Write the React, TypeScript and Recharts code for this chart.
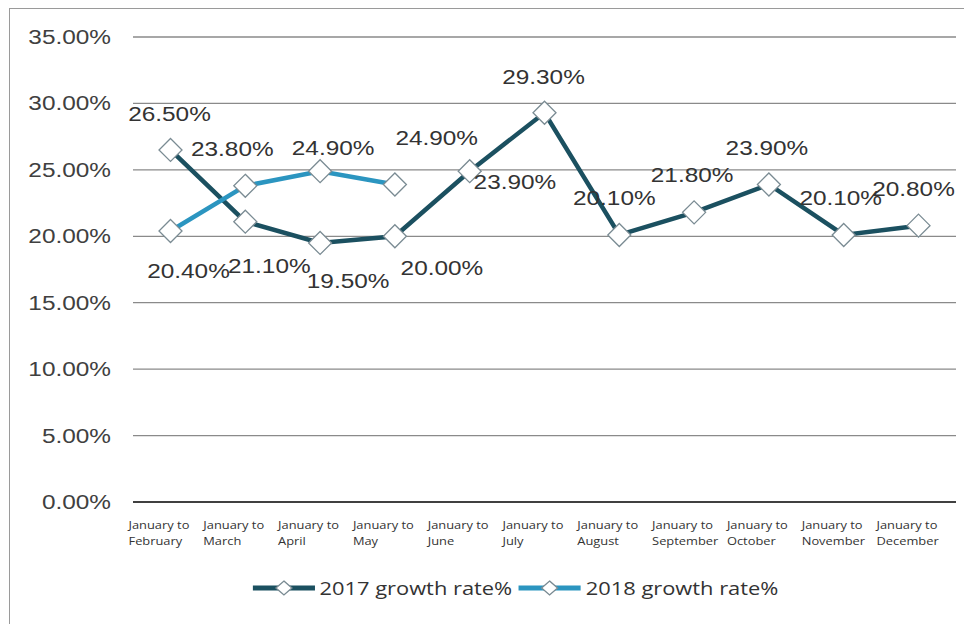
import React from 'react';
import { LineChart, Line, XAxis, YAxis, CartesianGrid } from 'recharts';

const categories = [
  'January to\nFebruary', 'January to\nMarch', 'January to\nApril', 'January to\nMay',
  'January to\nJune', 'January to\nJuly', 'January to\nAugust', 'January to\nSeptember',
  'January to\nOctober', 'January to\nNovember', 'January to\nDecember',
];
const growth2017 = [26.5, 21.1, 19.5, 20.0, 24.9, 29.3, 20.1, 21.8, 23.9, 20.1, 20.8];
const growth2018 = [20.4, 23.8, 24.9, 23.9];
const yTicks = [0, 5, 10, 15, 20, 25, 30, 35];
const seriesNames = ['2017 growth rate%', '2018 growth rate%'];

// label placement offsets (style only)
const labelOffsets2017 = [[-1, -36], [24, 44], [28, 38], [47, 32], [-33, -33], [-1, -36], [-5, -37], [-2, -37], [-2, -36], [-3, -37], [-5, -37]];
const labelOffsets2018 = [[18, 40], [-13, -37], [13, -23], [120, -2]];

const data = categories.map((c, i) => ({
  name: c,
  y2017: growth2017[i],
  y2018: i < growth2018.length ? growth2018[i] : null,
}));

const C2017 = '#1b5060';
const C2018 = '#2b95c0';
const SX = 1.25;
const fmt = (v: number) => `${v.toFixed(2)}%`;

const Diamond = (props: any) => {
  const { cx, cy, value } = props;
  if (value == null || cx == null || cy == null) return null;
  const r = 11.5;
  return (
    <path
      d={`M${cx},${cy - r} L${cx + r},${cy} L${cx},${cy + r} L${cx - r},${cy} Z`}
      fill="#ffffff"
      stroke="#7a8b93"
      strokeWidth={1.3}
    />
  );
};

const makeLabel = (offsets: number[][]) => (props: any) => {
  const { x, y, value, index } = props;
  if (value == null) return null;
  const [dx, dy] = offsets[index] || [0, -36];
  return (
    <text
      transform={`translate(${x + dx},${y + dy}) scale(${SX},1)`}
      textAnchor="middle"
      dy="0.36em"
      fontFamily="'Liberation Sans', Arial, sans-serif"
      fontSize={19.5}
      fill="#333333"
    >
      {fmt(Number(value))}
    </text>
  );
};

const YTick = (props: any) => {
  const { x, y, payload } = props;
  return (
    <text
      transform={`translate(${x},${y}) scale(${SX},1)`}
      textAnchor="end"
      dy="0.36em"
      fontFamily="'Liberation Sans', Arial, sans-serif"
      fontSize={19.5}
      fill="#404040"
    >
      {fmt(Number(payload.value))}
    </text>
  );
};

const XTick = (props: any) => {
  const { x, y, payload } = props;
  const lines = String(payload.value).split('\n');
  return (
    <g transform={`translate(${x - 42},${y})`}>
      {lines.map((l, i) => (
        <text
          key={i}
          transform={`translate(0,${27 + i * 16}) scale(1.12,1)`}
          textAnchor="start"
          fontFamily="'Open Sans', 'Noto Sans', sans-serif"
          fontSize={11.5}
          fill="#333333"
        >
          {l}
        </text>
      ))}
    </g>
  );
};

const LegendIcon = ({ color }: { color: string }) => (
  <svg width={58} height={20} style={{ display: 'block' }}>
    <line x1={2} y1={10} x2={56} y2={10} stroke={color} strokeWidth={5} />
    <path d="M29,3 L36,10 L29,17 L22,10 Z" fill="#fff" stroke="#7a8b93" strokeWidth={1.2} />
  </svg>
);

export default function App() {
  return (
    <div
      style={{
        position: 'relative',
        width: 962,
        height: 616,
        borderLeft: '1.5px solid #9a9a9a',
        borderTop: '1.5px solid #9a9a9a',
        boxSizing: 'border-box',
        background: '#fff',
        marginLeft: 1,
      }}
    >
      <LineChart
        width={960}
        height={614}
        data={data}
        margin={{ top: 28, right: 14, left: 0, bottom: 61 }}
      >
        <CartesianGrid vertical={false} stroke="#8a8a8a" strokeWidth={1.3} />
        <XAxis
          dataKey="name"
          interval={0}
          padding={{ left: 37.5, right: 37.5 }}
          tickLine={false}
          axisLine={{ stroke: '#404040', strokeWidth: 2.2 }}
          tickSize={0}
          tickMargin={0}
          height={60}
          tick={<XTick />}
        />
        <YAxis
          width={123}
          domain={[0, 35]}
          ticks={yTicks}
          interval={0}
          axisLine={false}
          tickLine={false}
          tickSize={0}
          tickMargin={22}
          tick={<YTick />}
        />
        <Line
          type="linear"
          dataKey="y2017"
          name={seriesNames[0]}
          stroke={C2017}
          strokeWidth={4.5}
          dot={<Diamond />}
          activeDot={false}
          label={makeLabel(labelOffsets2017)}
          isAnimationActive={false}
        />
        <Line
          type="linear"
          dataKey="y2018"
          name={seriesNames[1]}
          stroke={C2018}
          strokeWidth={4.5}
          dot={<Diamond />}
          activeDot={false}
          connectNulls={false}
          label={makeLabel(labelOffsets2018)}
          isAnimationActive={false}
        />
      </LineChart>
      <div
        style={{
          position: 'absolute',
          top: 566,
          left: 24,
          width: 960,
          display: 'flex',
          justifyContent: 'center',
          alignItems: 'center',
          fontFamily: "'Open Sans', 'Noto Sans', sans-serif",
          fontSize: 19,
          color: '#333',
        }}
      >
        <div style={{ display: 'flex', alignItems: 'center', transform: `scale(1.15,1)` }}>
          <LegendIcon color={C2017} />
          <span style={{ marginLeft: 2, marginRight: 4 }}>{seriesNames[0]}</span>
          <LegendIcon color={C2018} />
          <span style={{ marginLeft: 2 }}>{seriesNames[1]}</span>
        </div>
      </div>
    </div>
  );
}
